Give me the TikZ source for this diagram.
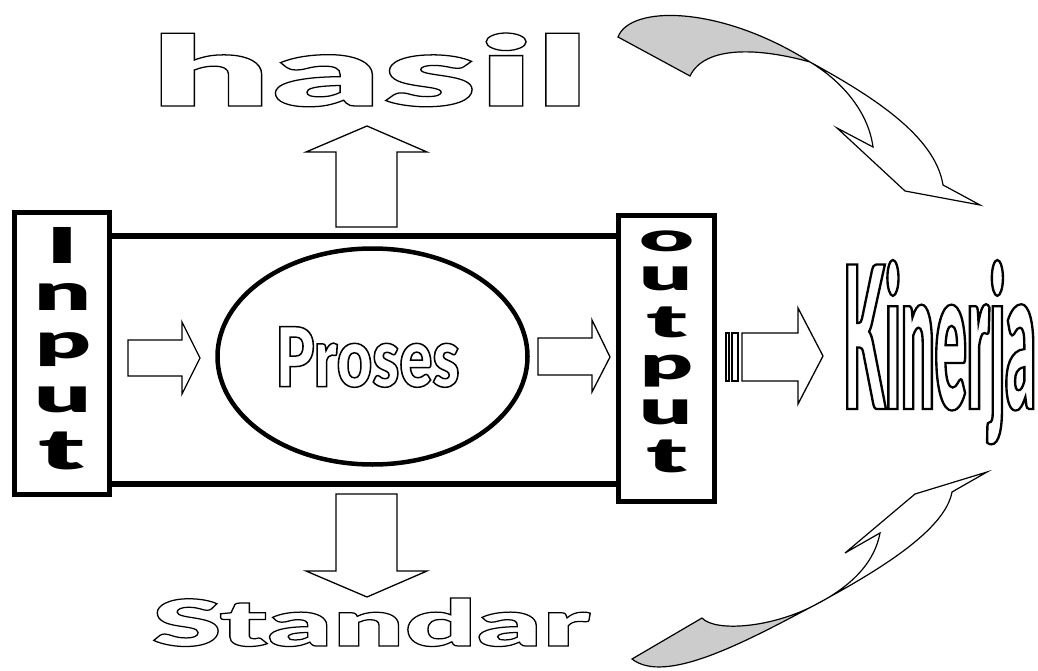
\documentclass[tikz,border=0pt]{standalone}
\usepackage{fontspec}
\usepackage{graphicx}
\usetikzlibrary{shapes.geometric}
\IfFontExistsTF{Lato Black}{%
  \newfontfamily\blk{Lato Black}%
  \newfontfamily\blkH{Lato Black}[FakeStretch=2.0]%
  \newfontfamily\blkS{Lato Black}[FakeStretch=1.8]%
  \newfontfamily\narP{Lato Black}[FakeStretch=0.7]%
  \newfontfamily\narK{Lato Black}[FakeStretch=0.28]%
}{%
  \newfontfamily\blk{DejaVu Sans Bold}%
  \newfontfamily\blkH{DejaVu Sans Bold}[FakeStretch=1.7]%
  \newfontfamily\blkS{DejaVu Sans Bold}[FakeStretch=1.5]%
  \newfontfamily\narP{Liberation Sans Bold}[FakeStretch=0.65]%
  \newfontfamily\narK{Liberation Sans Bold}[FakeStretch=0.27]%
}
\newcommand\outl[2]{\special{pdf:literal direct 1 Tr #1 w}#2\special{pdf:literal direct 0 Tr}}
\newcommand\hvy[3]{\resizebox*{#1}{#2}{\blk #3}}
\tikzset{
  txt/.style={inner sep=0pt, outer sep=0pt},
  frame/.style={draw, line width=5pt, inner sep=0pt},
  blockarrow/.style={draw, line width=1.3pt, fill=white, line join=miter},
  ribbon/.style={draw, line width=1.2pt, line join=miter},
}
\begin{document}
\begin{tikzpicture}[x=1pt,y=-1pt]
\path[use as bounding box, fill=white] (0,0) rectangle (1038,671);

% boxes
\node[frame, minimum width=95pt, minimum height=282pt] (inbox) at (62,353.5) {};
\node[frame, minimum width=96pt, minimum height=286.5pt] (outbox) at (666.5,358.25) {};
\draw[line width=5.5pt] (inbox.east |- 0,236) -- (outbox.west |- 0,236);
\draw[line width=5.5pt] (inbox.east |- 0,484) -- (outbox.west |- 0,484);

% process ellipse
\node[draw, ellipse, line width=4.5pt, minimum width=310pt, minimum height=216pt, inner sep=0pt] (proc) at (372.5,356.5) {};
\node[txt] (prosestxt) at (367.5,357) {\resizebox{184pt}{60pt}{\outl{1.5}{\narP\fontsize{84}{84}\selectfont Proses}}};

% Input letters
\node[txt, anchor=south] (i1) at (62.5,263) {\hvy{32pt}{36pt}{I}};
\node[txt, anchor=south] (i2) at (63,310) {\hvy{57pt}{27pt}{n}};
\node[txt, anchor=south] (i3) at (63,367) {\hvy{56pt}{34pt}{p}};
\node[txt, anchor=south] (i4) at (63,413) {\hvy{57pt}{26pt}{u}};
\node[txt, anchor=south] (i5) at (62,470) {\hvy{46pt}{38pt}{t}};

% output letters
\node[txt, anchor=south] (o1) at (667,252) {\hvy{55pt}{21pt}{o}};
\node[txt, anchor=south] (o2) at (666,291) {\hvy{53pt}{24pt}{u}};
\node[txt, anchor=south] (o3) at (666.5,338) {\hvy{41pt}{31pt}{t}};
\node[txt, anchor=south] (o4) at (666.5,387) {\hvy{53pt}{32pt}{p}};
\node[txt, anchor=south] (o5) at (666,425) {\hvy{53pt}{25pt}{u}};
\node[txt, anchor=south] (o6) at (666.5,473) {\hvy{41pt}{33pt}{t}};

% titles
\node[txt, anchor=base west] (hasil) at (150,106) {\resizebox{440pt}{73pt}{\outl{1.3}{\blkH\fontsize{100}{100}\selectfont hasil}}};
\node[txt, anchor=base west] (standar) at (152,646) {\resizebox{438pt}{48pt}{\outl{1.3}{\blkS\fontsize{67}{67}\selectfont Standar}}};
\node[txt, anchor=base west] (kinerja) at (843,409) {\resizebox{193pt}{149pt}{\outl{2.3}{\narK\fontsize{208}{208}\selectfont Kinerja}}};

% block arrows
\draw[blockarrow] (128,340) -- (182,340) -- (182,322) -- (200,358) -- (182,394) -- (182,376) -- (128,376) -- cycle;
\draw[blockarrow] (538,338) -- (592,338) -- (592,320) -- (610,357) -- (592,392) -- (592,375) -- (538,375) -- cycle;
\draw[blockarrow] (726,333) rectangle (729,381);
\draw[blockarrow] (732,333) rectangle (738,381);
\draw[blockarrow] (742,333) -- (798,333) -- (798,308) -- (823,356) -- (798,404) -- (798,381) -- (742,381) -- cycle;
\draw[blockarrow] (336,227) -- (336,152) -- (306,152) -- (367,126) -- (427,152) -- (397,152) -- (397,227) -- cycle;
\draw[blockarrow] (336,494) -- (336,571) -- (306,571) -- (367,597) -- (427,571) -- (397,571) -- (397,494) -- cycle;

% top curved ribbon arrow
\coordinate (tA) at (618,37);
\coordinate (tB) at (690,76);
\coordinate (tX) at (810,62);
\fill[gray!40] (tA) .. controls (630,5) and (720,5) .. (tX) .. controls (760,48) and (705,45) .. (tB) -- cycle;
\draw[ribbon] (tA) .. controls (630,5) and (720,5) .. (tX)
   .. controls (870,95) and (935,135) .. (943,185) -- (980,205) -- (905,191) -- (837,128) -- (873,147)
   .. controls (868,110) and (840,80) .. (tX)
   .. controls (760,48) and (705,45) .. (tB) -- cycle;

% bottom curved ribbon arrow
\coordinate (bA) at (632,659);
\coordinate (bB) at (702,618);
\coordinate (bX) at (813,606);
\fill[gray!40] (bA) -- (bB) .. controls (715,632) and (770,628) .. (bX) .. controls (745,642) and (665,685) .. (bA) -- cycle;
\draw[ribbon] (bA) -- (bB) .. controls (715,632) and (770,628) .. (bX)
   .. controls (855,585) and (875,560) .. (880,533) -- (845,553) -- (915,494) -- (987,472) -- (952,492)
   .. controls (945,530) and (880,570) .. (bX)
   .. controls (745,642) and (665,685) .. (bA) -- cycle;
\end{tikzpicture}
\end{document}
